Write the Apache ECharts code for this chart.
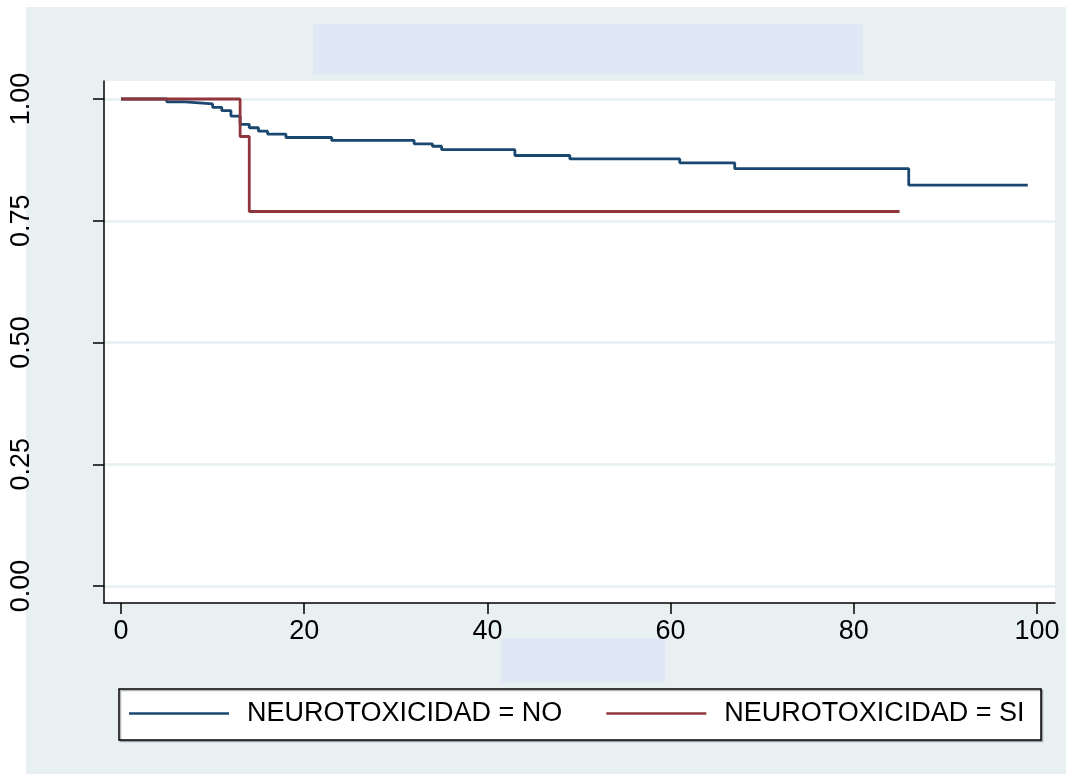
<!DOCTYPE html>
<html>
<head>
<meta charset="utf-8">
<script src="https://cdn.jsdelivr.net/npm/echarts@6/dist/echarts.min.js"></script>
<style>
  html, body { margin: 0; padding: 0; background: #ffffff; }
  #chart { width: 1066px; height: 774px; }
</style>
</head>
<body>
<div id="chart"></div>
<script>
// Kaplan-Meier survival estimates by neurotoxicity group: [time, survival]
const seriesNames = ['NEUROTOXICIDAD = NO', 'NEUROTOXICIDAD = SI'];
const survivalNo = [
  [0, 1.000], [5, 0.994], [7, 0.990], [10, 0.983], [11, 0.976], [12, 0.965],
  [13, 0.948], [14, 0.941], [15, 0.934], [16, 0.928], [18, 0.921], [23, 0.915],
  [32, 0.908], [34, 0.903], [35, 0.896], [43, 0.884], [49, 0.877], [61, 0.869],
  [67, 0.857], [86, 0.823], [99, 0.823]
];
const survivalSi = [
  [0, 1.000], [13, 0.923], [14, 0.769], [85, 0.769]
];
const xTicks = [0, 20, 40, 60, 80, 100];
const yTicks = [0, 0.25, 0.5, 0.75, 1];

const FONT = '"Liberation Sans", Arial, Helvetica, sans-serif';
const NAVY = '#1a476f';
const MAROON = '#90353b';

const chart = echarts.init(document.getElementById('chart'), null, { renderer: 'canvas' });

chart.setOption({
  backgroundColor: '#ffffff',
  animation: false,
  graphic: [
    // graph region
    { type: 'rect', z: -10, silent: true,
      shape: { x: 26, y: 7, width: 1040, height: 767 },
      style: { fill: '#e8f0f2' } },
    // title band
    { type: 'rect', z: -5, silent: true,
      shape: { x: 313, y: 24, width: 550, height: 51 },
      style: { fill: '#dee9f5' } },
    // x-axis title band
    { type: 'rect', z: -5, silent: true,
      shape: { x: 501, y: 638, width: 164, height: 45 },
      style: { fill: '#dee9f5' } },
    // legend frame
    { type: 'rect', z: -5, silent: true,
      shape: { x: 119, y: 689, width: 922, height: 51 },
      style: { fill: '#ffffff', stroke: '#000000', lineWidth: 1.5,
               shadowColor: 'rgba(120,130,135,0.6)', shadowOffsetX: 1.5, shadowOffsetY: 1.5 } }
  ],
  grid: {
    left: 104, top: 81, width: 951, height: 522,
    show: true, backgroundColor: '#ffffff', borderWidth: 0,
    containLabel: false
  },
  xAxis: {
    type: 'value',
    min: -1.86, max: 101.97,
    axisLine: { show: true, onZero: false, lineStyle: { color: '#000000', width: 1.5 } },
    axisTick: { show: true, length: 11, customValues: xTicks,
                lineStyle: { color: '#000000', width: 1.5 } },
    axisLabel: { customValues: xTicks, margin: 15, fontSize: 27,
                 fontFamily: FONT, color: '#000000' },
    splitLine: { show: false }
  },
  yAxis: {
    type: 'value',
    min: -0.0349, max: 1.037,
    axisLine: { show: true, onZero: false, lineStyle: { color: '#000000', width: 1.5 } },
    axisTick: { show: true, length: 11, customValues: yTicks,
                lineStyle: { color: '#000000', width: 1.5 } },
    axisLabel: { customValues: yTicks, rotate: 90, margin: 69, fontSize: 27,
                 fontFamily: FONT, color: '#000000',
                 formatter: v => v.toFixed(2) },
    splitLine: { show: true, lineStyle: { color: '#e6eff1', width: 2.5 } }
  },
  legend: {
    left: 129, top: 700,
    itemWidth: 100, itemHeight: 2.5, itemGap: 44,
    icon: 'rect',
    padding: 0,
    textStyle: { fontSize: 27, fontFamily: FONT, color: '#000000', padding: [0, 0, 0, 13] },
    data: seriesNames
  },
  series: [
    {
      name: seriesNames[0], type: 'line', step: 'end', data: survivalNo,
      symbol: 'none', color: NAVY,
      lineStyle: { color: NAVY, width: 2.8 }
    },
    {
      name: seriesNames[1], type: 'line', step: 'end', data: survivalSi,
      symbol: 'none', color: MAROON,
      lineStyle: { color: MAROON, width: 2.8 }
    }
  ]
});
</script>
</body>
</html>
